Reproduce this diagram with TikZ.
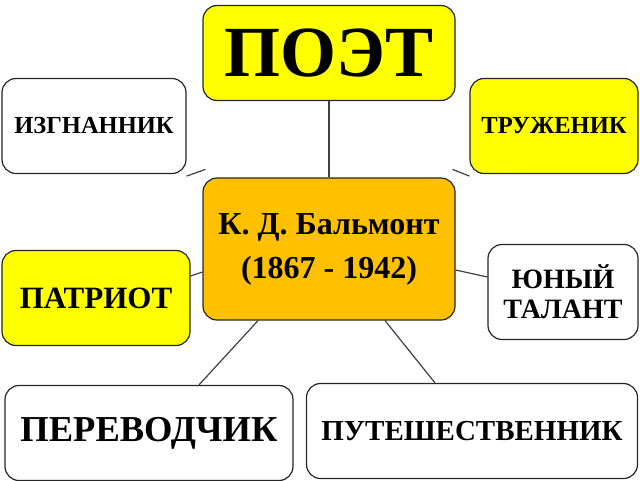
\documentclass[tikz,border=0pt]{standalone}
\usepackage{fontspec}
\setmainfont{Liberation Serif}
\definecolor{boxyellow}{HTML}{FFFF00}
\definecolor{boxorange}{HTML}{FFC000}
\definecolor{linegray}{HTML}{404040}
\tikzset{
  card/.style={draw=black!85, line width=1.2pt, rounded corners=14pt, inner sep=0pt,
    align=center, font=\bfseries},
  link/.style={draw=linegray, line width=1.2pt}
}
\begin{document}
\begin{tikzpicture}[x=1pt,y=-1pt]
    \useasboundingbox (0,0) rectangle (640,480);

    % Boxes
    \node[card, fill=boxyellow, minimum width=252, minimum height=95, font=\bfseries\fontsize{72}{72}\selectfont] (poet) at (329,53) {ПОЭТ};
    \node[card, fill=white, minimum width=184, minimum height=95, font=\bfseries\fontsize{24.5}{28}\selectfont] (exile) at (94,126) {ИЗГНАННИК};
    \node[card, fill=boxyellow, minimum width=168, minimum height=95, font=\bfseries\fontsize{24.5}{28}\selectfont] (worker) at (554,126) {ТРУЖЕНИК};
    \node[card, fill=boxorange, minimum width=252, minimum height=142, font=\bfseries\fontsize{32}{44}\selectfont] (main) at (329,249) {К. Д. Бальмонт\\(1867 - 1942)};
    \node[card, fill=boxyellow, minimum width=188, minimum height=95, font=\bfseries\fontsize{31}{34}\selectfont] (patriot) at (96,298) {ПАТРИОТ};
    \node[card, fill=white, minimum width=150, minimum height=95, font=\bfseries\fontsize{28}{30}\selectfont] (talent) at (563,292) {ЮНЫЙ\\ТАЛАНТ};
    \node[card, fill=white, minimum width=288, minimum height=95, font=\bfseries\fontsize{36.5}{40}\selectfont] (translator) at (149,433) {ПЕРЕВОДЧИК};
    \node[card, fill=white, minimum width=331, minimum height=95, font=\bfseries\fontsize{29}{32}\selectfont] (traveller) at (472,431) {ПУТЕШЕСТВЕННИК};

    % Links
    \draw[link] (poet) -- (main);
    \draw[link] (exile.south east) ++(0,2) -- ([xshift=3pt,yshift=8pt]main.north west);
    \draw[link] (worker.south west) ++(0,2) -- ([xshift=-3pt,yshift=8pt]main.north east);
    \draw[link] (patriot.east) ++(0,-22) -- ([yshift=-23pt]main.west);
    \draw[link] (talent.west) ++(0,-15) -- ([yshift=-21pt]main.east);
    \draw[link] ([xshift=50pt]translator.north) -- ([xshift=-71pt]main.south);
    \draw[link] ([xshift=-37pt]traveller.north) -- ([xshift=56pt]main.south);
\end{tikzpicture}
\end{document}
